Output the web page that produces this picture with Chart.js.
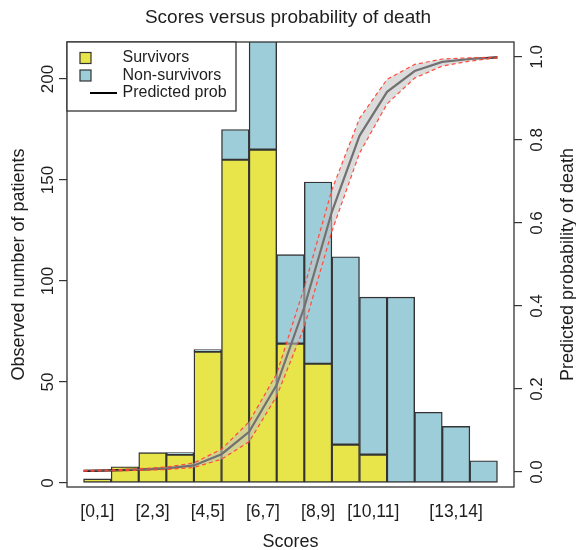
<!DOCTYPE html>
<html>
<head>
<meta charset="utf-8">
<script src="https://cdn.jsdelivr.net/npm/chart.js@4.4.1/dist/chart.umd.min.js"></script>
<style>
  html, body { margin: 0; padding: 0; background: #ffffff; }
  canvas { display: block; }
</style>
</head>
<body>
<canvas id="c" width="576" height="550"></canvas>
<script>
// ---------------- data ----------------
const categories = ['[0,1]','[1,2]','[2,3]','[3,4]','[4,5]','[5,6]','[6,7]','[7,8]','[8,9]','[9,10]','[10,11]','[11,12]','[12,13]','[13,14]','[14,15]'];
const shownLabels = ['[0,1]','[2,3]','[4,5]','[6,7]','[8,9]','[10,11]','[13,14]'];
const survivors    = [2, 8, 15, 14, 65, 160, 165, 69, 59, 19, 14, 0, 0, 0, 0];
const nonSurvivors = [0, 0, 0, 1, 1, 15, 60, 44, 90, 93, 78, 92, 35, 28, 11];
const scoreEdges = [0, 1, 2, 3, 4, 5, 6, 7, 8, 9, 10, 11, 12, 13, 14, 15];
const predProb  = [0.003, 0.004, 0.006, 0.009, 0.016, 0.043, 0.097, 0.210, 0.397, 0.627, 0.810, 0.916, 0.966, 0.988, 0.995, 0.999];
const probUpper = [0.004, 0.005, 0.008, 0.012, 0.022, 0.055, 0.121, 0.237, 0.445, 0.680, 0.852, 0.946, 0.982, 0.995, 0.998, 0.9995];
const probLower = [0.002, 0.003, 0.004, 0.006, 0.011, 0.031, 0.073, 0.183, 0.350, 0.580, 0.768, 0.887, 0.949, 0.978, 0.990, 0.998];
const leftTicks  = [0, 50, 100, 150, 200];
const rightTicks = [0, 0.2, 0.4, 0.6, 0.8, 1.0];
const legendLabels = ['Survivors', 'Non-survivors', 'Predicted prob'];
const titleText = 'Scores versus probability of death';
const xTitle = 'Scores';
const yTitle = 'Observed number of patients';
const y2Title = 'Predicted probability of death';

// ---------------- styles ----------------
const FONT = '"Liberation Sans", Arial, Helvetica, sans-serif';
const TXT = '#1e1e1e';
const EDGE = '#333333';
const YELLOW = 'rgb(232,229,74)';
const BLUE = 'rgb(158,205,218)';

const barSurv = categories.map((c, i) => ({ x: i + 0.5, y: survivors[i] }));
const barNon  = categories.map((c, i) => ({ x: i + 0.5, y: nonSurvivors[i] }));
const toPts = arr => scoreEdges.map((s, i) => ({ x: s, y: arr[i] }));
const shownTickValues = shownLabels.map(l => categories.indexOf(l) + 0.5);

const extrasPlugin = {
  id: 'extras',
  afterDatasetsDraw(chart) {
    const ctx = chart.ctx;
    const a = chart.chartArea;
    // plot box
    ctx.save();
    ctx.strokeStyle = EDGE;
    ctx.lineWidth = 1.3;
    ctx.strokeRect(a.left, a.top, a.right - a.left, a.bottom - a.top);
    // legend
    const ox = a.left, oy = a.top, w = 169, h = 69;
    ctx.fillStyle = '#ffffff';
    ctx.fillRect(ox, oy, w, h);
    ctx.strokeRect(ox, oy, w, h);
    const rows = [16, 33.5, 51];
    const fills = [YELLOW, BLUE];
    ctx.lineWidth = 1.2;
    for (let i = 0; i < 2; i++) {
      ctx.fillStyle = fills[i];
      ctx.fillRect(ox + 13, oy + rows[i] - 5.5, 11, 11);
      ctx.strokeRect(ox + 13, oy + rows[i] - 5.5, 11, 11);
    }
    ctx.strokeStyle = '#000';
    ctx.lineWidth = 2;
    ctx.beginPath();
    ctx.moveTo(ox + 23, oy + rows[2]);
    ctx.lineTo(ox + 50, oy + rows[2]);
    ctx.stroke();
    ctx.fillStyle = TXT;
    ctx.font = '16px ' + FONT;
    ctx.textAlign = 'left';
    ctx.textBaseline = 'middle';
    legendLabels.forEach((t, i) => ctx.fillText(t, ox + 55.5, oy + rows[i]));
    ctx.restore();
  },
  afterDraw(chart) {
    const ctx = chart.ctx;
    const a = chart.chartArea;
    const rot = (text, x, y, size) => {
      ctx.save();
      ctx.translate(x, y);
      ctx.rotate(-Math.PI / 2);
      ctx.font = size + 'px ' + FONT;
      ctx.fillStyle = TXT;
      ctx.textAlign = 'center';
      ctx.textBaseline = 'middle';
      ctx.fillText(text, 0, 0);
      ctx.restore();
    };
    const ys = chart.scales.y, y2 = chart.scales.y2;
    ys.ticks.forEach(t => rot(String(t.value), a.left - 19, ys.getPixelForValue(t.value), 17));
    y2.ticks.forEach(t => rot(t.value.toFixed(1), a.right + 23, y2.getPixelForValue(t.value), 17));
    rot(y2Title, a.right + 54, (a.top + a.bottom) / 2, 18);
  }
};

new Chart(document.getElementById('c'), {
  data: {
    datasets: [
      { type: 'bar', label: legendLabels[0], data: barSurv, yAxisID: 'y', xAxisID: 'x',
        backgroundColor: YELLOW, borderColor: EDGE, borderWidth: 1.4, borderSkipped: false,
        barPercentage: 1, categoryPercentage: 1, order: 10, clip: 0 },
      { type: 'bar', label: legendLabels[1], data: barNon, yAxisID: 'y', xAxisID: 'x',
        backgroundColor: BLUE, borderColor: EDGE, borderWidth: 1.4, borderSkipped: false,
        barPercentage: 1, categoryPercentage: 1, order: 10, clip: 0 },
      { type: 'line', label: legendLabels[2], data: toPts(predProb), yAxisID: 'y2', xAxisID: 'x',
        borderColor: '#000000', borderWidth: 2.2, pointRadius: 0, tension: 0, fill: false, order: 4 },
      { type: 'line', label: 'upper', data: toPts(probUpper), yAxisID: 'y2', xAxisID: 'x',
        borderColor: 'rgba(255,70,55,0.95)', borderWidth: 1.2, borderDash: [4, 3], pointRadius: 0,
        tension: 0, fill: '+1', backgroundColor: 'rgba(195,195,195,0.58)', order: 3 },
      { type: 'line', label: 'lower', data: toPts(probLower), yAxisID: 'y2', xAxisID: 'x',
        borderColor: 'rgba(255,70,55,0.95)', borderWidth: 1.2, borderDash: [4, 3], pointRadius: 0,
        tension: 0, fill: false, order: 2 }
    ]
  },
  options: {
    responsive: false,
    animation: false,
    devicePixelRatio: 1,
    layout: { padding: 0 },
    plugins: {
      legend: { display: false },
      tooltip: { enabled: false },
      title: {
        display: true, text: titleText, color: TXT,
        font: { family: FONT, size: 19, weight: 'normal', lineHeight: 1.2 },
        padding: { top: 6.6, bottom: 12.6 }
      }
    },
    scales: {
      x: {
        type: 'linear', position: 'bottom', min: -0.6, max: 15.6, stacked: true, offset: false,
        grid: { display: false, drawTicks: false },
        border: { display: false },
        afterBuildTicks: s => { s.ticks = shownTickValues.map(v => ({ value: v })); },
        afterFit: s => { s.height = 63; },
        ticks: {
          autoSkip: false, maxRotation: 0, minRotation: 0, padding: 15, color: TXT,
          font: { family: FONT, size: 17.5 },
          callback: v => categories[Math.floor(v)]
        },
        title: { display: true, text: xTitle, color: TXT, padding: 0,
          font: { family: FONT, size: 18, lineHeight: 0.9 } }
      },
      y: {
        type: 'linear', position: 'left', min: -2, max: 218.3, stacked: true,
        grid: { display: true, drawOnChartArea: false, drawTicks: true, tickLength: 8, color: EDGE, lineWidth: 1.2 },
        border: { display: false },
        afterBuildTicks: s => { s.ticks = leftTicks.map(v => ({ value: v })); },
        afterFit: s => { s.width = 67; },
        ticks: { display: false },
        title: { display: true, text: yTitle, color: TXT, padding: { top: 10, bottom: 0 },
          font: { family: FONT, size: 18, lineHeight: 1 } }
      },
      y2: {
        type: 'linear', position: 'right', min: -0.036, max: 1.036,
        grid: { display: true, drawOnChartArea: false, drawTicks: true, tickLength: 8, color: EDGE, lineWidth: 1.2 },
        border: { display: false },
        afterBuildTicks: s => { s.ticks = rightTicks.map(v => ({ value: v })); },
        afterFit: s => { s.width = 62; },
        ticks: { display: false }
      }
    }
  },
  plugins: [extrasPlugin]
});
</script>
</body>
</html>
